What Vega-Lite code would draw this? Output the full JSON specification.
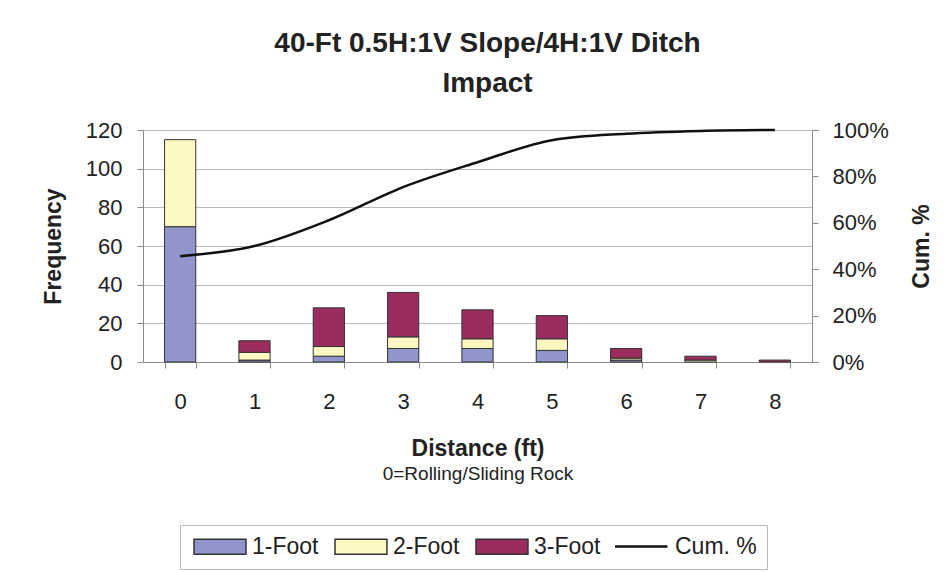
{
  "$schema": "https://vega.github.io/schema/vega-lite/v6.json",
  "width": 669,
  "height": 232,
  "autosize": {"type": "none"},
  "padding": {"left": 143, "top": 130, "right": 139, "bottom": 210},
  "background": "white",
  "title": {
    "text": ["40-Ft 0.5H:1V Slope/4H:1V Ditch", "Impact"],
    "fontSize": 28,
    "font": "Liberation Sans",
    "fontWeight": "bold",
    "color": "#222222",
    "lineHeight": 40,
    "offset": 21,
    "anchor": "middle",
    "dx": 10
  },
  "config": {
    "font": "Liberation Sans",
    "view": {"stroke": null},
    "axis": {
      "labelFont": "Liberation Sans",
      "titleFont": "Liberation Sans",
      "labelColor": "#222222",
      "titleColor": "#222222",
      "domainColor": "#8a8a8a",
      "tickColor": "#8a8a8a",
      "gridColor": "#b8b8b8",
      "labelFontSize": 22,
      "titleFontSize": 23,
      "titleFontWeight": "bold"
    },
    "legend": {"labelFont": "Liberation Sans"}
  },
  "datasets": {
    "bars": [
      {"distance": "0", "size": "1-Foot", "count": 70},
      {"distance": "0", "size": "2-Foot", "count": 45},
      {"distance": "1", "size": "1-Foot", "count": 1},
      {"distance": "1", "size": "2-Foot", "count": 4},
      {"distance": "1", "size": "3-Foot", "count": 6},
      {"distance": "2", "size": "1-Foot", "count": 3},
      {"distance": "2", "size": "2-Foot", "count": 5},
      {"distance": "2", "size": "3-Foot", "count": 20},
      {"distance": "3", "size": "1-Foot", "count": 7},
      {"distance": "3", "size": "2-Foot", "count": 6},
      {"distance": "3", "size": "3-Foot", "count": 23},
      {"distance": "4", "size": "1-Foot", "count": 7},
      {"distance": "4", "size": "2-Foot", "count": 5},
      {"distance": "4", "size": "3-Foot", "count": 15},
      {"distance": "5", "size": "1-Foot", "count": 6},
      {"distance": "5", "size": "2-Foot", "count": 6},
      {"distance": "5", "size": "3-Foot", "count": 12},
      {"distance": "6", "size": "1-Foot", "count": 1},
      {"distance": "6", "size": "2-Foot", "count": 1},
      {"distance": "6", "size": "3-Foot", "count": 5},
      {"distance": "7", "size": "2-Foot", "count": 1},
      {"distance": "7", "size": "3-Foot", "count": 2},
      {"distance": "8", "size": "3-Foot", "count": 1}
    ],
    "cum": [
      {"distance": "0", "cum": 0.456},
      {"distance": "1", "cum": 0.5},
      {"distance": "2", "cum": 0.611},
      {"distance": "3", "cum": 0.754},
      {"distance": "4", "cum": 0.861},
      {"distance": "5", "cum": 0.956},
      {"distance": "6", "cum": 0.984},
      {"distance": "7", "cum": 0.996},
      {"distance": "8", "cum": 1.0}
    ]
  },
  "layer": [
    {
      "data": {"name": "bars"},
      "mark": {"type": "bar", "stroke": "#333333", "strokeWidth": 1},
      "encoding": {
        "x": {
          "field": "distance",
          "type": "ordinal",
          "scale": {"paddingInner": 0.58, "paddingOuter": 0.29},
          "axis": {
            "title": "Distance (ft)",
            "labelAngle": 0,
            "tickBand": "extent",
            "tickSize": 6,
            "labelPadding": 23,
            "titlePadding": 25,
            "domainColor": "#8a8a8a"
          }
        },
        "y": {
          "field": "count",
          "type": "quantitative",
          "aggregate": "sum",
          "stack": "zero",
          "scale": {"domain": [0, 120]},
          "axis": {
            "title": "Frequency",
            "values": [0, 20, 40, 60, 80, 100, 120],
            "tickSize": 6,
            "labelPadding": 15,
            "titlePadding": 20,
            "grid": true
          }
        },
        "color": {
          "field": "size",
          "type": "nominal",
          "scale": {
            "domain": ["1-Foot", "2-Foot", "3-Foot", "Cum. %"],
            "range": ["#9095cc", "#fdf8c2", "#9b2c60", "transparent"]
          },
          "legend": {
            "title": null,
            "orient": "none",
            "direction": "horizontal",
            "legendX": 37,
            "legendY": 395,
            "padding": 10,
            "strokeColor": "#bbbbbb",
            "fillColor": "white",
            "labelFontSize": 23,
            "labelColor": "#222222",
            "symbolSize": 225,
            "labelOffset": 39,
            "columnPadding": 12,
            "symbolType": "M-1,-1H5.93V1H-1Z"
          }
        },
        "order": {"field": "size", "sort": "ascending"}
      }
    },
    {
      "data": {"name": "cum"},
      "mark": {"type": "line", "interpolate": "monotone", "strokeWidth": 2.5},
      "encoding": {
        "x": {
          "field": "distance",
          "type": "ordinal",
          "axis": {
            "orient": "bottom",
            "title": "0=Rolling/Sliding Rock",
            "titleFontSize": 19,
            "titleFontWeight": "normal",
            "labels": false,
            "ticks": false,
            "domain": false,
            "grid": false,
            "titlePadding": 102
          }
        },
        "y": {
          "field": "cum",
          "type": "quantitative",
          "scale": {"domain": [0, 1]},
          "axis": {
            "orient": "right",
            "title": "Cum. %",
            "titleAngle": 270,
            "format": ".0%",
            "values": [0, 0.2, 0.4, 0.6, 0.8, 1],
            "tickSize": 6,
            "labelPadding": 14,
            "titlePadding": 45,
            "grid": false
          }
        },
        "stroke": {
          "datum": "Cum. %",
          "type": "nominal",
          "scale": {"domain": ["Cum. %"], "range": ["#111111"]},
          "legend": {
            "title": null,
            "orient": "none",
            "legendX": 466,
            "legendY": 403,
            "padding": 2,
            "fillColor": "white",
            "labelFontSize": 23,
            "labelExpr": "''",
            "labelOffset": 0,
            "symbolSize": 225,
            "symbolType": "M-1,0H6.0",
            "symbolStrokeWidth": 2.5,
            "symbolStrokeColor": "#111111"
          }
        }
      }
    }
  ],
  "resolve": {"scale": {"y": "independent"}, "axis": {"x": "independent", "y": "independent"}}
}
